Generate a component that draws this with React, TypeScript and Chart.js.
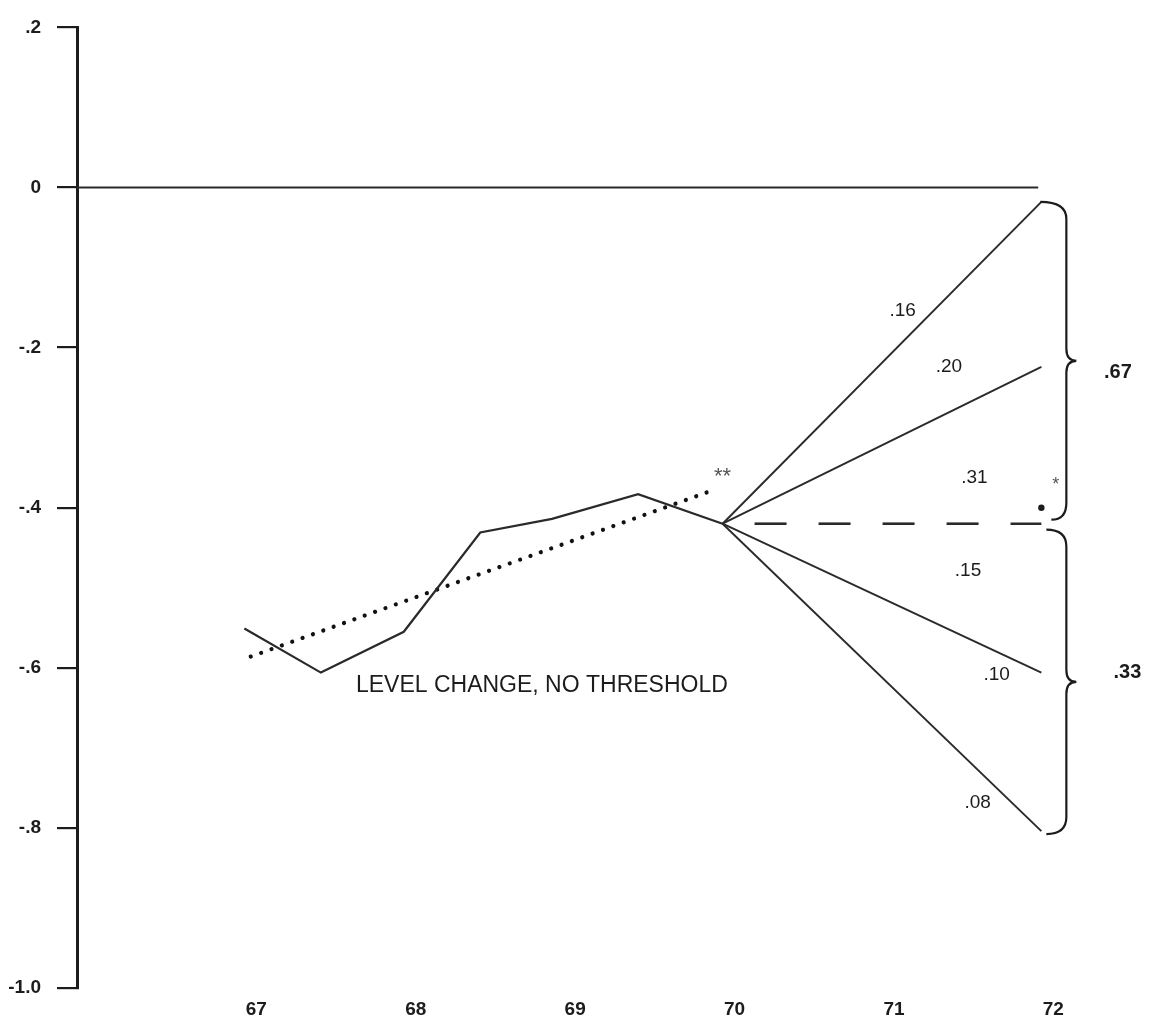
import { useEffect, useRef } from "react";
import { Chart, registerables } from "chart.js";

Chart.register(...registerables);

// ---- data ----
const yearTicks = [67, 68, 69, 70, 71, 72];
const yTickValues = [0.2, 0, -0.2, -0.4, -0.6, -0.8, -1.0];
const yTickLabels = [".2", "0", "-.2", "-.4", "-.6", "-.8", "-1.0"];

const observedYears = [67, 67.48, 68.0, 68.48, 68.93, 69.47, 70];
const observedValues = [-0.551, -0.606, -0.555, -0.431, -0.414, -0.383, -0.42];

const trendYears = [67.04, 69.9];
const trendValues = [-0.586, -0.381];

const projectionStartYear = 70;
const projectionEndYear = 72;
const projectionStartValue = -0.42;
const projectionEndValues = [-0.018, -0.224, -0.42, -0.606, -0.804];
const projectionDashed = [false, false, true, false, false];

const zeroLineYears = [65.95, 71.98];

const probabilityTexts = [".16", ".20", ".31", ".15", ".10", ".08"];
const probabilityYears = [71.13, 71.42, 71.58, 71.54, 71.72, 71.6];
const probabilityValues = [-0.154, -0.224, -0.363, -0.479, -0.609, -0.768];

const groupTexts = [".67", ".33"];
const groupYears = [72.48, 72.54];
const groupValues = [-0.231, -0.606];

const captionText = "LEVEL CHANGE, NO THRESHOLD";
const captionYear = 67.7;
const captionValue = -0.622;

const FONT = '"Liberation Sans", Arial, Helvetica, sans-serif';
const INK = "#1c1c1c";
const LINE = "#2a2a2a";

function drawBrace(ctx: CanvasRenderingContext2D, x0Top: number, yTop: number, x0Bot: number, yBot: number, xv: number, tip: number) {
  const mid = (yTop + yBot) / 2;
  ctx.beginPath();
  ctx.moveTo(x0Top, yTop);
  ctx.quadraticCurveTo(xv, yTop, xv, yTop + 17);
  ctx.lineTo(xv, mid - 12);
  ctx.quadraticCurveTo(xv, mid, tip, mid);
  ctx.quadraticCurveTo(xv, mid, xv, mid + 12);
  ctx.lineTo(xv, yBot - 17);
  ctx.quadraticCurveTo(xv, yBot, x0Bot, yBot);
  ctx.stroke();
}

const annotationPlugin = {
  id: "annotations",
  afterDatasetsDraw(chart: any) {
    const { ctx } = chart;
    const xs = chart.scales.x;
    const ys = chart.scales.y;
    const px = (v: number) => xs.getPixelForValue(v);
    const py = (v: number) => ys.getPixelForValue(v);
    ctx.save();
    ctx.fillStyle = INK;
    ctx.textAlign = "center";
    ctx.textBaseline = "middle";

    ctx.font = `19px ${FONT}`;
    probabilityTexts.forEach((t, i) => {
      ctx.fillText(t, px(probabilityYears[i]), py(probabilityValues[i]));
    });

    ctx.font = `bold 20px ${FONT}`;
    groupTexts.forEach((t, i) => {
      ctx.fillText(t, px(groupYears[i]), py(groupValues[i]));
    });

    ctx.font = `23px ${FONT}`;
    ctx.textAlign = "left";
    ctx.fillText(captionText, px(captionYear), py(captionValue));

    // asterisks
    ctx.textAlign = "center";
    ctx.fillStyle = "#555";
    ctx.font = `22px ${FONT}`;
    ctx.fillText("**", px(70.0), py(-0.362));
    ctx.font = `18px ${FONT}`;
    ctx.fillText("*", px(72.09), py(-0.372));
    ctx.fillStyle = INK;
    ctx.beginPath();
    ctx.arc(px(72.0), py(-0.4), 3.2, 0, Math.PI * 2);
    ctx.fill();

    // braces
    ctx.strokeStyle = INK;
    ctx.lineWidth = 2.2;
    const xe = px(projectionEndYear);
    const yMid = py(projectionStartValue);
    drawBrace(ctx, xe - 1, py(projectionEndValues[0]), xe + 10, yMid - 4, xe + 25, xe + 35);
    drawBrace(ctx, xe + 5, yMid + 6, xe + 5, py(projectionEndValues[4]) + 3, xe + 25, xe + 35);
    ctx.restore();
  },
};

export default function App() {
  const ref = useRef<HTMLCanvasElement | null>(null);
  useEffect(() => {
    if (!ref.current) return;
    const datasets: any[] = [];
    datasets.push({
      data: zeroLineYears.map((x) => ({ x, y: 0 })),
      borderColor: LINE,
      borderWidth: 2,
      pointRadius: 0,
    });
    datasets.push({
      data: observedYears.map((x, i) => ({ x, y: observedValues[i] })),
      borderColor: LINE,
      borderWidth: 2.2,
      pointRadius: 0,
      tension: 0,
    });
    datasets.push({
      data: trendYears.map((x, i) => ({ x, y: trendValues[i] })),
      borderColor: "#111",
      borderWidth: 4.2,
      borderDash: [0.01, 11],
      borderCapStyle: "round",
      pointRadius: 0,
    });
    projectionEndValues.forEach((v, i) => {
      datasets.push({
        data: [
          { x: projectionStartYear, y: projectionStartValue },
          { x: projectionEndYear, y: v },
        ],
        borderColor: LINE,
        borderWidth: projectionDashed[i] ? 2.6 : 1.9,
        borderDash: projectionDashed[i] ? [32, 32] : [],
        borderDashOffset: projectionDashed[i] ? 32 : 0,
        pointRadius: 0,
      });
    });

    const chart = new Chart(ref.current, {
      type: "line",
      data: { datasets },
      options: {
        responsive: false,
        animation: false,
        devicePixelRatio: 1,
        layout: { padding: { top: 14, right: 17, left: 0, bottom: 0 } },
        plugins: { legend: { display: false }, tooltip: { enabled: false } },
        scales: {
          x: {
            type: "linear",
            min: 65.95,
            max: 72.6,
            afterBuildTicks: (s: any) => {
              s.ticks = yearTicks.map((v) => ({ value: v }));
            },
            afterFit: (s: any) => {
              s.height = 32;
            },
            grid: { display: false },
            border: { display: false },
            ticks: {
              color: INK,
              font: { family: FONT, size: 19, weight: "bold" },
              padding: 2,
              labelOffset: 12,
              maxRotation: 0,
              autoSkip: false,
              callback: (v: any) => String(v),
            },
          },
          y: {
            type: "linear",
            min: -1.0,
            max: 0.2,
            afterBuildTicks: (s: any) => {
              s.ticks = yTickValues.map((v) => ({ value: v }));
            },
            afterFit: (s: any) => {
              s.width = 77;
            },
            grid: {
              drawOnChartArea: false,
              drawTicks: true,
              tickLength: 20,
              color: INK,
              lineWidth: 2.2,
            },
            border: { display: true, color: INK, width: 3 },
            ticks: {
              color: INK,
              font: { family: FONT, size: 19, weight: "bold" },
              padding: 16,
              autoSkip: false,
              callback: (v: any) => {
                const idx = yTickValues.findIndex((t) => Math.abs(t - Number(v)) < 1e-6);
                return idx >= 0 ? yTickLabels[idx] : "";
              },
            },
          },
        },
      },
      plugins: [annotationPlugin],
    });
    return () => chart.destroy();
  }, []);

  return (
    <div style={{ position: "absolute", left: 0, top: 0, width: 1154, height: 1020, background: "#fff" }}>
      <canvas ref={ref} width={1154} height={1020} style={{ display: "block" }} />
    </div>
  );
}
